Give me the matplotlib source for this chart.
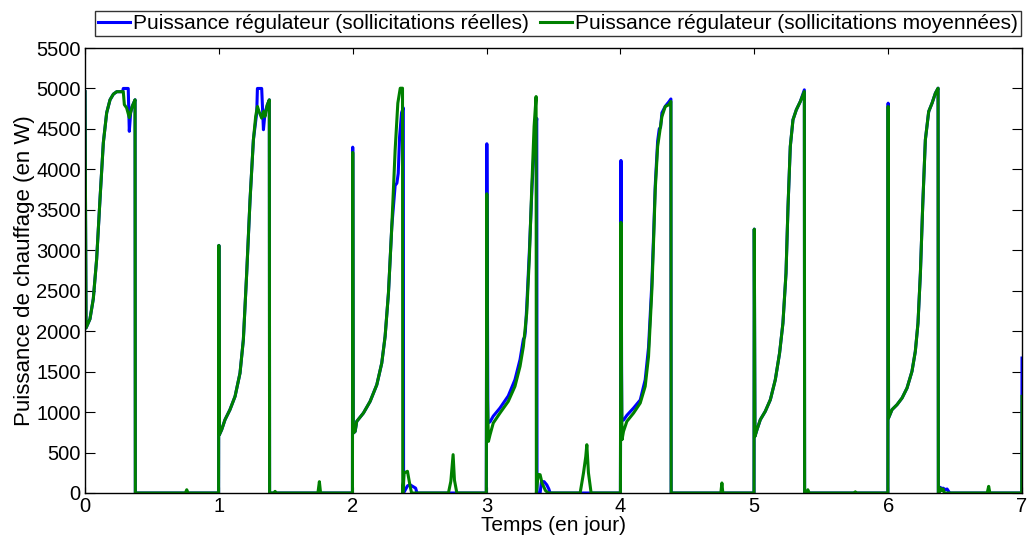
import matplotlib
matplotlib.use('Agg')
import matplotlib.pyplot as plt
import numpy as np

plt.rcParams['font.family'] = ['Liberation Sans', 'DejaVu Sans']

# Puissance regulateur - sollicitations moyennees (courbe verte)
t_moy = [0.000, 0.008, 0.037, 0.062, 0.087, 0.112, 0.137, 0.162, 0.187, 0.212, 0.237, 0.286,
         0.294, 0.311, 0.331, 0.353, 0.374, 0.376,
         0.750, 0.760, 0.770,
         0.998, 1.000, 1.004, 1.021, 1.046, 1.083, 1.121, 1.158, 1.183, 1.208, 1.233, 1.258,
         1.275, 1.288, 1.300, 1.320, 1.333, 1.345, 1.362, 1.377, 1.379,
         1.410, 1.420, 1.430, 1.740, 1.751, 1.760,
         1.998, 2.000, 2.004, 2.018, 2.030, 2.080, 2.130, 2.180, 2.217, 2.242, 2.267, 2.292,
         2.317, 2.337, 2.355, 2.372, 2.374,
         2.384, 2.409, 2.429, 2.440,
         2.715, 2.733, 2.750, 2.760, 2.778,
         2.998, 3.002, 3.006, 3.014, 3.026, 3.050, 3.100, 3.162, 3.212, 3.250, 3.275, 3.300,
         3.320, 3.337, 3.355, 3.370, 3.372,
         3.385, 3.400, 3.415, 3.440, 3.460,
         3.699, 3.724, 3.741, 3.749, 3.761, 3.781,
         4.000, 4.004, 4.008, 4.012, 4.023, 4.048, 4.098, 4.148, 4.185, 4.210, 4.235, 4.248,
         4.260, 4.278, 4.292, 4.310, 4.335, 4.360, 4.377, 4.379,
         4.750, 4.758, 4.765,
         4.998, 5.000, 5.005, 5.020, 5.045, 5.082, 5.120, 5.157, 5.189, 5.214, 5.237, 5.252,
         5.269, 5.289, 5.314, 5.344, 5.374, 5.376,
         5.390, 5.400, 5.410, 5.750, 5.755, 5.760,
         5.998, 6.000, 6.003, 6.029, 6.066, 6.104, 6.141, 6.178, 6.203, 6.223, 6.241, 6.258,
         6.278, 6.303, 6.328, 6.353, 6.373, 6.375,
         6.380, 6.390, 6.400, 6.410, 6.420,
         6.740, 6.751, 6.760,
         6.998, 7.000]
p_moy = [4960, 2040, 2150, 2400, 2890, 3630, 4330, 4700, 4860, 4930, 4960, 4960,
         4800, 4760, 4640, 4780, 4860, 0,
         0, 40, 0,
         0, 3060, 720, 782, 906, 1030, 1194, 1482, 1894, 2718, 3624, 4365,
         4653, 4777, 4715, 4633, 4715, 4653, 4797, 4859, 0,
         0, 20, 0, 0, 140, 0,
         0, 4209, 741, 760, 885, 988, 1132, 1338, 1606, 1935, 2471, 3294,
         4242, 4818, 5003, 5003, 0,
         247, 268, 82, 0,
         0, 144, 474, 160, 0,
         0, 3698, 1200, 638, 720, 865, 988, 1132, 1318, 1565, 1812, 2224,
         2924, 3747, 4530, 4900, 0,
         230, 226, 120, 30, 0,
         0, 247, 450, 597, 250, 0,
         0, 3344, 1500, 659, 762, 885, 988, 1112, 1318, 1688, 2512, 3130,
         3747, 4283, 4448, 4653, 4777, 4797, 4839, 0,
         0, 124, 0,
         0, 3261, 700, 782, 906, 1009, 1153, 1400, 1730, 2100, 2718, 3541,
         4283, 4612, 4736, 4839, 4962, 0,
         0, 40, 0, 0, 15, 0,
         0, 4777, 927, 1030, 1091, 1174, 1297, 1503, 1750, 2100, 2718, 3541,
         4365, 4715, 4818, 4942, 5003, 0,
         0, 60, 30, 50, 0,
         0, 82, 0,
         0, 1194]

# Puissance regulateur - sollicitations reelles (courbe bleue)
t_reel = [0.000, 0.008, 0.037, 0.062, 0.087, 0.112, 0.137, 0.162, 0.187, 0.212, 0.237, 0.281,
          0.286, 0.323, 0.331, 0.341, 0.353, 0.374, 0.376,
          0.998, 1.000, 1.004, 1.021, 1.046, 1.083, 1.121, 1.158, 1.183, 1.208, 1.233, 1.258,
          1.283, 1.288, 1.320, 1.333, 1.345, 1.362, 1.377, 1.379,
          1.998, 2.000, 2.004, 2.018, 2.030, 2.080, 2.130, 2.180, 2.217, 2.242, 2.267, 2.292,
          2.317, 2.330, 2.340, 2.350, 2.365, 2.378, 2.380,
          2.410, 2.430, 2.450, 2.470, 2.480,
          2.998, 3.002, 3.010, 3.026, 3.050, 3.100, 3.162, 3.212, 3.250, 3.275, 3.285, 3.290,
          3.300, 3.320, 3.340, 3.360, 3.375, 3.377,
          3.400, 3.410, 3.430, 3.450, 3.465, 3.475,
          4.000, 4.004, 4.010, 4.023, 4.048, 4.098, 4.148, 4.185, 4.210, 4.235, 4.248, 4.260,
          4.278, 4.290, 4.300, 4.310, 4.335, 4.360, 4.377, 4.379,
          4.998, 5.000, 5.005, 5.020, 5.045, 5.082, 5.120, 5.157, 5.189, 5.214, 5.237, 5.252,
          5.269, 5.289, 5.314, 5.344, 5.374, 5.376,
          5.998, 6.000, 6.003, 6.029, 6.066, 6.104, 6.141, 6.178, 6.203, 6.223, 6.241, 6.258,
          6.278, 6.303, 6.328, 6.353, 6.373, 6.375,
          6.380, 6.390, 6.400, 6.410, 6.430, 6.440, 6.460,
          6.998, 7.000]
p_reel = [4960, 2040, 2150, 2400, 2890, 3630, 4330, 4700, 4860, 4930, 4960, 4960,
          5000, 5000, 4470, 4700, 4780, 4860, 0,
          0, 3060, 720, 782, 906, 1030, 1194, 1482, 1894, 2718, 3624, 4365,
          4700, 5000, 5000, 4490, 4700, 4797, 4859, 0,
          0, 4274, 741, 760, 885, 988, 1132, 1338, 1606, 1935, 2471, 3294,
          3800, 3830, 3950, 4400, 4700, 4760, 0,
          90, 100, 80, 60, 0,
          0, 4316, 865, 880, 950, 1050, 1200, 1400, 1650, 1900, 1930, 2000,
          2300, 3000, 3800, 4400, 4630, 0,
          0, 140, 140, 100, 50, 0,
          0, 4110, 906, 900, 960, 1050, 1150, 1400, 1800, 2600, 3200, 3800,
          4350, 4500, 4520, 4700, 4780, 4830, 4870, 0,
          0, 3261, 700, 782, 906, 1009, 1153, 1400, 1730, 2100, 2718, 3541,
          4283, 4612, 4736, 4839, 4983, 0,
          0, 4818, 927, 1030, 1091, 1174, 1297, 1503, 1750, 2100, 2718, 3541,
          4365, 4715, 4818, 4942, 5003, 0,
          0, 70, 50, 60, 40, 50, 0,
          0, 1668]

x_ticks = [0, 1, 2, 3, 4, 5, 6, 7]
y_ticks = list(range(0, 5501, 500))

fig = plt.figure(figsize=(10.27, 5.42), dpi=100)
ax = fig.add_axes([85/1027, 49/542, 937/1027, 445/542])

ax.plot(t_reel, p_reel, color=(0, 0, 1), lw=2.2, label='Puissance régulateur (sollicitations réelles)')
ax.plot(t_moy, p_moy, color=(0, 0.5, 0), lw=2.2, label='Puissance régulateur (sollicitations moyennées)')

ax.set_xlim(0, 7)
ax.set_ylim(0, 5500)
ax.set_xticks(x_ticks)
ax.set_yticks(y_ticks)
ax.tick_params(direction='in', top=True, right=True, labelsize=14.5, width=0.8)
ax.tick_params(axis='y', length=7, pad=3)
ax.tick_params(axis='x', length=4, pad=3)
for s in ax.spines.values():
    s.set_linewidth(1.0)

ax.set_xlabel('Temps (en jour)', fontsize=15, labelpad=0)
ax.set_ylabel('Puissance de chauffage (en W)', fontsize=16, labelpad=1)

leg = fig.legend(loc='upper right', bbox_to_anchor=(1021/1027, 1 - 11/542), ncol=2,
                 fontsize=15, frameon=True, fancybox=False, edgecolor='black',
                 handlelength=1.55, handletextpad=0.15, columnspacing=0.5,
                 borderpad=0.15, borderaxespad=0)
leg.get_frame().set_linewidth(1.0)

fig.savefig('out.png', dpi=100)
